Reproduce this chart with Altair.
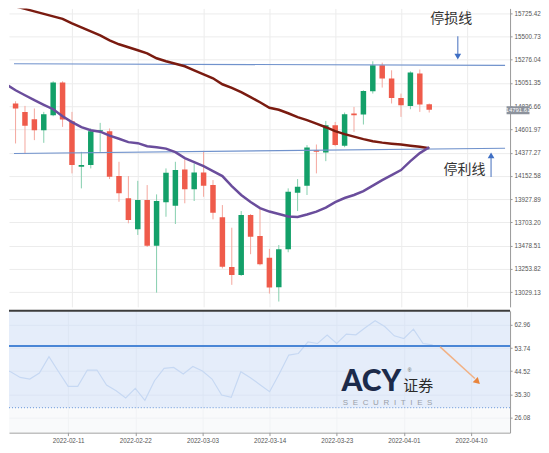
import altair as alt
import pandas as pd

# ---------------- data ----------------
bar_index = list(range(46))
opens = [15125, 14852, 14771, 14700, 14594, 14739, 15054, 14681, 14240, 14257,
         14585, 14585, 14151, 13936, 13637, 13919, 13479, 13897, 13864, 14215,
         14023, 14186, 14064, 13752, 13273, 13196, 13775, 13572, 13363, 13077,
         13444, 13990, 14057, 14401, 14379, 14643, 14443, 14755, 14746, 14970,
         15221, 15093, 14906, 14829, 15141, 14845]
highs = [15144, 14874, 14829, 14804, 14771, 15067, 15067, 14771, 14385, 14611,
         14665, 14611, 14289, 14151, 14105, 14064, 13974, 14225, 14289, 14312,
         14273, 14395, 14112, 13871, 13652, 13813, 13784, 13845, 13447, 13485,
         14032, 14122, 14450, 14456, 14684, 14674, 14765, 14819, 14980, 15260,
         15247, 15173, 14948, 15163, 15180, 14852]
lows = [14845, 14466, 14370, 14498, 14472, 14729, 14626, 14177, 14032, 14225,
        14385, 14122, 13903, 13695, 13582, 13466, 13025, 13758, 13688, 13888,
        13910, 13951, 13733, 13259, 13100, 13186, 13396, 13288, 13016, 12939,
        13415, 13813, 13968, 14177, 14295, 14440, 14430, 14578, 14649, 14948,
        15006, 14852, 14723, 14797, 14771, 14765]
closes = [14864, 14804, 14636, 14594, 14749, 15054, 14698, 14257, 14257, 14585,
          14594, 14144, 13984, 13726, 13919, 13479, 13910, 14183, 14209, 14023,
          14186, 14057, 13797, 13276, 13196, 13775, 13565, 13299, 13074, 13444,
          13999, 14048, 14428, 14385, 14643, 14450, 14749, 14739, 14973, 15221,
          15093, 14906, 14835, 15151, 14842, 14791.61]
ma_long = [15819, 15790, 15766, 15742, 15718, 15694, 15670, 15626, 15588, 15549,
           15510, 15462, 15424, 15395, 15366, 15337, 15289, 15260, 15236, 15212,
           15173, 15134, 15096, 15038, 15004, 14961, 14913, 14864, 14811, 14792,
           14758, 14720, 14691, 14657, 14623, 14585, 14556, 14532, 14508, 14488,
           14474, 14464, 14455, 14445, 14435, 14421]
ma_short = [15038, 14980, 14932, 14884, 14840, 14797, 14729, 14672, 14623, 14594,
            14580, 14541, 14512, 14479, 14469, 14440, 14430, 14416, 14382, 14324,
            14286, 14247, 14199, 14151, 14054, 13968, 13900, 13842, 13808, 13784,
            13760, 13755, 13780, 13808, 13847, 13900, 13939, 13968, 14006, 14059,
            14112, 14160, 14209, 14295, 14373, 14430]
rsi = [45.38, 44.31, 42.05, 41.41, 43.79, 50.26, 44.31, 38.48, 38.48, 44.98,
       44.98, 39.03, 36.77, 33.87, 37.68, 32.92, 40.74, 45.62, 46.02, 43.40,
       46.41, 44.59, 41.41, 35.06, 34.11, 44.31, 41.93, 39.15, 36.37, 43.40,
       50.94, 51.57, 56.21, 55.54, 58.87, 55.54, 59.27, 58.99, 61.89, 64.55,
       62.29, 58.59, 57.52, 61.25, 55.54, 55.02]

tick_idx = [0, 7, 14, 21, 28, 35, 42, 49]
tick_labels = ["2022-02-02", "2022-02-11", "2022-02-22", "2022-03-03",
               "2022-03-14", "2022-03-23", "2022-04-01", "2022-04-10"]
price_ticks = [15725.42, 15500.73, 15276.04, 15051.35, 14826.66, 14601.97,
               14377.27, 14152.58, 13927.89, 13703.20, 13478.51, 13253.82, 13029.13]
rsi_ticks = [62.96, 53.74, 44.52, 35.30, 26.08]

stop_loss = [15236, 15221]     # 停损线 (left, right)
take_profit = [14369, 14420]   # 停利线 (left, right)
rsi_mid = 54.5
rsi_low = 30
rsi_high = 70

# ---------------- scales / axes ----------------
W = 502
X0 = 0.832
X1 = X0 + W / 9.61
P0, P1 = 12887.5, 15770.8
R0, R1 = 20.10, 68.52

GREEN, RED = "#13a069", "#ef5b4b"
GREEN_W, RED_W = "#86cfae", "#f4a79e"

xs = alt.Scale(domain=[X0, X1], nice=False, zero=False)
ys = alt.Scale(domain=[P0, P1], nice=False, zero=False)
rs = alt.Scale(domain=[R0, R1], nice=False, zero=False)

shown_ticks = [t for t in tick_idx if X0 <= t <= X1]
label_expr = "".join(f"datum.value == {t} ? '{l}' : " for t, l in zip(tick_idx, tick_labels)) + "''"

x_top_axis = alt.Axis(values=shown_ticks, labels=False, ticks=False, domain=False,
                      grid=True, gridColor="#ececec", title=None)
y_top_axis = alt.Axis(orient="right", values=price_ticks, format=".2f", title=None,
                      grid=True, gridColor="#ececec", tickSize=2, labelPadding=2,
                      domainColor="#9a9a9a", tickColor="#9a9a9a")
x_bot_axis = alt.Axis(values=shown_ticks, labelExpr=label_expr, grid=True, gridColor="#e3e6ea",
                      title=None, tickSize=3, labelPadding=2, domainColor="#9a9a9a",
                      tickColor="#9a9a9a", labelFlush=False)
y_bot_axis = alt.Axis(orient="right", values=rsi_ticks, format=".2f", title=None, grid=True,
                      gridColor="#dfe3ea", tickSize=2, labelPadding=2,
                      domainColor="#9a9a9a", tickColor="#9a9a9a")


def XT(f):
    return alt.X(f, scale=xs, axis=x_top_axis)


def YT(f):
    return alt.Y(f, scale=ys, axis=y_top_axis)


def XB(f):
    return alt.X(f, scale=xs, axis=x_bot_axis)


def YB(f):
    return alt.Y(f, scale=rs, axis=y_bot_axis)


df = pd.DataFrame({"i": bar_index, "open": opens, "high": highs, "low": lows,
                   "close": closes, "ma_long": ma_long, "ma_short": ma_short, "rsi": rsi})
df["body_col"] = [GREEN if c >= o else RED for o, c in zip(opens, closes)]
df["wick_col"] = [GREEN_W if c >= o else RED_W for o, c in zip(opens, closes)]

base = alt.Chart(df)
wicks = base.mark_rule(strokeWidth=1, clip=True).encode(
    x=XT("i:Q"), y=YT("low:Q"), y2="high:Q",
    color=alt.Color("wick_col:N", scale=None),
)
bodies = base.mark_bar(size=5.5, clip=True).encode(
    x=XT("i:Q"), y=YT("open:Q"), y2="close:Q",
    color=alt.Color("body_col:N", scale=None),
)

lines_df = pd.DataFrame({"x": [X0, X1, X0, X1], "y": stop_loss + take_profit,
                         "g": ["sl", "sl", "tp", "tp"]})
hlines = alt.Chart(lines_df).mark_line(color="#7092cc", strokeWidth=1.2, clip=True).encode(
    x=XT("x:Q"), y=YT("y:Q"), detail="g:N")

ma_l = base.mark_line(color="#7a1b10", strokeWidth=2.5, clip=True).encode(
    x=XT("i:Q"), y=YT("ma_long:Q"))
ma_s = base.mark_line(color="#6a4d9c", strokeWidth=2.5, clip=True).encode(
    x=XT("i:Q"), y=YT("ma_short:Q"))

txt_df = pd.DataFrame({"x": [47.35, 48.75], "y": [15665, 14213], "t": ["停损线", "停利线"]})
texts = alt.Chart(txt_df).mark_text(font="Noto Sans CJK SC", fontSize=14, color="#333333",
                                    align="center", baseline="middle").encode(
    x=XT("x:Q"), y=YT("y:Q"), text="t:N")

arr_df = pd.DataFrame({"x": [48.04, 51.58], "y": [15501, 14141], "y2": [15318, 14334]})
arr_lines = alt.Chart(arr_df).mark_rule(color="#6f8fcc", strokeWidth=1.3).encode(
    x=XT("x:Q"), y=YT("y:Q"), y2="y2:Q")
head_df = pd.DataFrame({"x": [48.04, 51.58], "y": [15305, 14350],
                        "s": ["triangle-down", "triangle-up"]})
heads = alt.Chart(head_df).mark_point(filled=True, size=45, opacity=1, color="#3f6fc4").encode(
    x=XT("x:Q"), y=YT("y:Q"), shape=alt.Shape("s:N", scale=None))

tag_df = pd.DataFrame({"x": [X1 + 0.16], "x2": [X1 + 2.6], "y": [14826], "y2": [14749],
                       "tx": [X1 + 1.38], "ty": [14787], "t": [f"{closes[-1]:.2f}"]})
tag_rect = alt.Chart(tag_df).mark_rect(color="#8c929c").encode(
    x=XT("x:Q"), x2="x2:Q", y=YT("y:Q"), y2="y2:Q")
tag_text = alt.Chart(tag_df).mark_text(font="Liberation Sans", fontSize=6, color="white",
                                       align="center", baseline="middle").encode(
    x=XT("tx:Q"), y=YT("ty:Q"), text="t:N")

top = alt.layer(wicks, bodies, hlines, ma_l, ma_s, texts, arr_lines, heads,
                tag_rect, tag_text).properties(width=W, height=299)

# ---------------- bottom panel ----------------
rsi_line = base.mark_line(color="#98b9e6", strokeWidth=1.2, clip=True).encode(
    x=XB("i:Q"), y=YB("rsi:Q"))

bg_df = pd.DataFrame({"lo": [R0, rsi_low], "hi": [rsi_low, rsi_high], "c": ["#f7f8fa", "#dae6f8"]})
bands = alt.Chart(bg_df).mark_rect(opacity=0.7, clip=True).encode(
    y=YB("lo:Q"), y2="hi:Q", color=alt.Color("c:N", scale=None))

lvl_df = pd.DataFrame({"v": [rsi_low]})
dotted = alt.Chart(lvl_df).mark_rule(color="#7fa6df", strokeDash=[1, 2], strokeWidth=1.2).encode(
    y=YB("v:Q"))
mid_df = pd.DataFrame({"v": [rsi_mid]})
mid = alt.Chart(mid_df).mark_rule(color="#4a86d6", strokeWidth=2).encode(y=YB("v:Q"))
sep_df = pd.DataFrame({"v": [R1]})
sep = alt.Chart(sep_df).mark_rule(color="#3c3c3c", strokeWidth=2).encode(y=YB("v:Q"))

logo_df = pd.DataFrame({"x": [38.6], "y": [40.3], "t": ["ACY"]})
logo = alt.Chart(logo_df).mark_text(font="Lato", fontSize=30, fontWeight=900,
                                    color="#1b2a4a", align="center", baseline="middle").encode(
    x=XB("x:Q"), y=YB("y:Q"), text="t:N")
reg_df = pd.DataFrame({"x": [42.6], "y": [45.0], "t": ["®"]})
logo_reg = alt.Chart(reg_df).mark_text(font="Liberation Sans", fontSize=5, color="#555555",
                                       align="center", baseline="middle").encode(
    x=XB("x:Q"), y=YB("y:Q"), text="t:N")
cn_df = pd.DataFrame({"x": [43.5], "y": [38.7], "t": ["证券"]})
logo_cn = alt.Chart(cn_df).mark_text(font="Noto Sans CJK SC", fontSize=15, color="#2a2a2a",
                                     align="center", baseline="middle").encode(
    x=XB("x:Q"), y=YB("y:Q"), text="t:N")
sec_df = pd.DataFrame({"x": [40.3], "y": [31.7], "t": ["\u2002\u200a".join("SECURITIES")]})
logo_sec = alt.Chart(sec_df).mark_text(font="Liberation Sans", fontSize=8, color="#9aa0a8",
                                       align="center", baseline="middle").encode(
    x=XB("x:Q"), y=YB("y:Q"), text="t:N")

oa_df = pd.DataFrame({"x": [45.78], "y": [54.2], "x2": [49.4], "y2": [41.6]})
o_line = alt.Chart(oa_df).mark_rule(color="#f2b184", strokeWidth=1.5).encode(
    x=XB("x:Q"), y=YB("y:Q"), x2="x2:Q", y2="y2:Q")
oh_df = pd.DataFrame({"x": [49.6], "y": [40.6]})
o_head = alt.Chart(oh_df).mark_point(shape="triangle", angle=133, filled=True, size=55,
                                     opacity=1, color="#e8843c").encode(
    x=XB("x:Q"), y=YB("y:Q"))

bottom = alt.layer(rsi_line, bands, dotted, mid, logo, logo_reg, logo_cn, logo_sec,
                   o_line, o_head, sep).properties(width=W, height=122)

chart = alt.vconcat(top, bottom, spacing=3).properties(padding=0).configure_view(
    strokeWidth=0
).configure_axis(
    labelFont="Liberation Sans", labelFontSize=6.3, labelColor="#555555"
)

chart.save("out.html", embed_options={"renderer": "svg", "actions": False})
